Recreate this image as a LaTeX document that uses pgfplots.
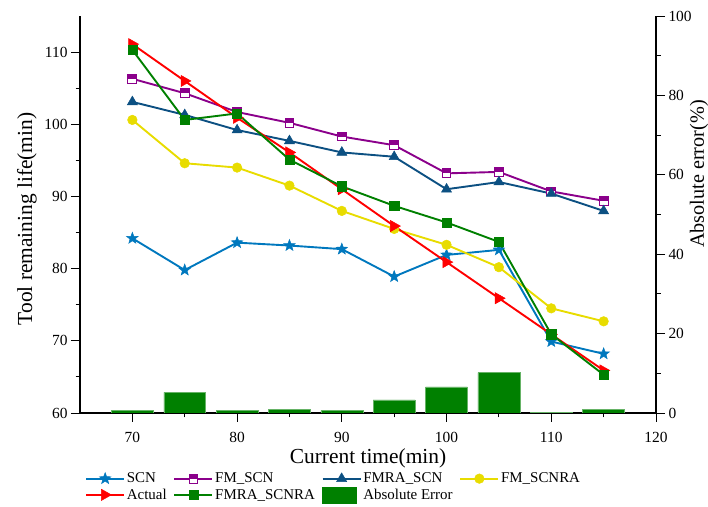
\documentclass[border=0pt]{standalone}
\usepackage{fontspec}
\setmainfont{Liberation Serif}
\usepackage{pgfplots}
\pgfplotsset{compat=1.18}
\usetikzlibrary{plotmarks}
\definecolor{cscn}{RGB}{0,120,190}
\definecolor{cfm}{RGB}{139,0,139}
\definecolor{cfmra}{RGB}{12,80,130}
\definecolor{cyel}{RGB}{232,220,0}
\definecolor{cred}{RGB}{255,0,0}
\definecolor{cgreen}{RGB}{0,128,0}
\pgfdeclareplotmark{fstar}{%
  \pgfpathmoveto{\pgfpointpolar{90}{\pgfplotmarksize}}%
  \pgfpathlineto{\pgfpointpolar{126}{0.42\pgfplotmarksize}}%
  \pgfpathlineto{\pgfpointpolar{162}{\pgfplotmarksize}}%
  \pgfpathlineto{\pgfpointpolar{198}{0.42\pgfplotmarksize}}%
  \pgfpathlineto{\pgfpointpolar{234}{\pgfplotmarksize}}%
  \pgfpathlineto{\pgfpointpolar{270}{0.42\pgfplotmarksize}}%
  \pgfpathlineto{\pgfpointpolar{306}{\pgfplotmarksize}}%
  \pgfpathlineto{\pgfpointpolar{342}{0.42\pgfplotmarksize}}%
  \pgfpathlineto{\pgfpointpolar{18}{\pgfplotmarksize}}%
  \pgfpathlineto{\pgfpointpolar{54}{0.42\pgfplotmarksize}}%
  \pgfpathclose
  \pgfusepathqfillstroke}
\pgfdeclareplotmark{rtri}{%
  \pgfpathmoveto{\pgfpoint{\pgfplotmarksize}{0pt}}%
  \pgfpathlineto{\pgfpoint{-0.6\pgfplotmarksize}{0.9\pgfplotmarksize}}%
  \pgfpathlineto{\pgfpoint{-0.6\pgfplotmarksize}{-0.9\pgfplotmarksize}}%
  \pgfpathclose
  \pgfusepathqfillstroke}
\pgfdeclareplotmark{halfsq}{%
  \pgfsetfillcolor{white}%
  \pgfpathrectangle{\pgfpoint{-\pgfplotmarksize}{-\pgfplotmarksize}}{\pgfpoint{2\pgfplotmarksize}{2\pgfplotmarksize}}%
  \pgfusepathqfill
  \pgfsetfillcolor{cfm}%
  \pgfpathrectangle{\pgfpoint{-\pgfplotmarksize}{0pt}}{\pgfpoint{2\pgfplotmarksize}{\pgfplotmarksize}}%
  \pgfusepathqfill
  \pgfpathrectangle{\pgfpoint{-\pgfplotmarksize}{-\pgfplotmarksize}}{\pgfpoint{2\pgfplotmarksize}{2\pgfplotmarksize}}%
  \pgfusepathqstroke}
\begin{document}
\begin{tikzpicture}
\useasboundingbox (0,0) rectangle (708bp,507bp);
\pgfplotsset{
  base/.style={
    scale only axis, width=576bp, height=397bp,
    at={(80bp,94bp)}, anchor=south west,
    xmin=65, xmax=120,
    /pgf/number format/assume math mode=true,
    tick label style={font=\fontsize{15.5}{18}\selectfont, black},
    label style={font=\fontsize{21.5}{24}\selectfont},
    tick align=outside,
    major tick length=9bp, minor tick length=4.5bp,
    every tick/.style={black, line width=0.9bp},
    axis line style={black, line width=1.1bp},
    minor tick num=1,
  }
}
% bar axis (right)
\begin{axis}[base,
  axis x line*=bottom, axis y line*=right,
  ymin=0, ymax=100,
  xtick={70,80,90,100,110,120},
  ytick={0,20,40,60,80,100},
  xlabel={Current time(min)},
  xlabel style={at={(axis description cs:0.5,-0.113)}, anchor=center},
  ylabel={Absolute error(\%)},
  ylabel style={at={(axis description cs:1.0747,0.602)}, anchor=center, rotate=0, font=\fontsize{20.3}{23}\selectfont},
  xticklabel style={yshift=-6.5bp},
]
\addplot[ybar, bar width=4, fill=cgreen, draw=cgreen!60!white, line width=0.4bp]
coordinates {(70,0.6) (75,5.2) (80,0.6) (85,1.0) (90,0.6) (95,3.3) (100,6.6) (105,10.2) (110,0.2) (115,0.9)};
\end{axis}
% line axis (left)
\begin{axis}[base,
  axis x line=none, axis y line*=left,
  ymin=60, ymax=115,
  ytick={60,70,80,90,100,110},
  ylabel={Tool remaining life(min)},
  ylabel style={at={(axis description cs:-0.092,0.4887)}, anchor=center},
  legend columns=4,
  legend cell align=left,
  legend style={at={(axis description cs:0.0087,-0.146)}, anchor=north west,
    draw=none, fill=none, inner sep=0pt, row sep=0.5bp,
    font=\fontsize{15}{17}\selectfont,
    /tikz/every even column/.append style={column sep=5bp},
    nodes={inner sep=1.8bp}},
  legend image code/.code={\draw[mark repeat=2,mark phase=2] plot coordinates {(0bp,0bp) (19bp,0bp) (38bp,0bp)};},
]
\addplot[cscn, line width=1.9bp, mark=fstar, mark size=6bp, mark options={fill=cscn, line width=0.5bp}]
coordinates {(70,84.2) (75,79.8) (80,83.6) (85,83.2) (90,82.7) (95,78.9) (100,81.9) (105,82.6) (110,69.9) (115,68.2)};
\addlegendentry{SCN}
\addplot[cfm, line width=1.9bp, mark=halfsq, mark size=4.4bp, mark options={line width=1bp}]
coordinates {(70,106.3) (75,104.3) (80,101.7) (85,100.2) (90,98.3) (95,97.1) (100,93.2) (105,93.4) (110,90.7) (115,89.4)};
\addlegendentry{FM\_SCN}
\addplot[cfmra, line width=1.9bp, mark=triangle*, mark size=5.8bp, mark options={fill=cfmra, line width=0.5bp}]
coordinates {(70,103.1) (75,101.3) (80,99.2) (85,97.7) (90,96.1) (95,95.5) (100,91.0) (105,92.0) (110,90.4) (115,88.0)};
\addlegendentry{FMRA\_SCN}
\addplot[cyel, line width=1.9bp, mark=*, mark size=4.8bp, mark options={fill=cyel, line width=0.5bp}]
coordinates {(70,100.6) (75,94.6) (80,94.0) (85,91.5) (90,88.0) (95,85.5) (100,83.3) (105,80.2) (110,74.5) (115,72.7)};
\addlegendentry{FM\_SCNRA}
\addplot[cred, line width=1.9bp, mark=rtri, mark size=6.2bp, mark options={fill=cred, line width=0.5bp}]
coordinates {(70,111.1) (75,106.0) (80,100.9) (85,96.1) (90,91.0) (95,85.9) (100,80.9) (105,75.9) (110,70.9) (115,65.9)};
\addlegendentry{Actual}
\addplot[cgreen, line width=1.9bp, mark=square*, mark size=4.6bp, mark options={fill=cgreen, line width=0.5bp}]
coordinates {(70,110.3) (75,100.6) (80,101.5) (85,95.1) (90,91.4) (95,88.7) (100,86.4) (105,83.7) (110,70.9) (115,65.3)};
\addlegendentry{FMRA\_SCNRA}
\addlegendimage{legend image code/.code={\fill[cgreen] (0bp,-8bp) rectangle (34bp,8bp);}}
\addlegendentry{Absolute Error}
\end{axis}
\end{tikzpicture}
\end{document}
